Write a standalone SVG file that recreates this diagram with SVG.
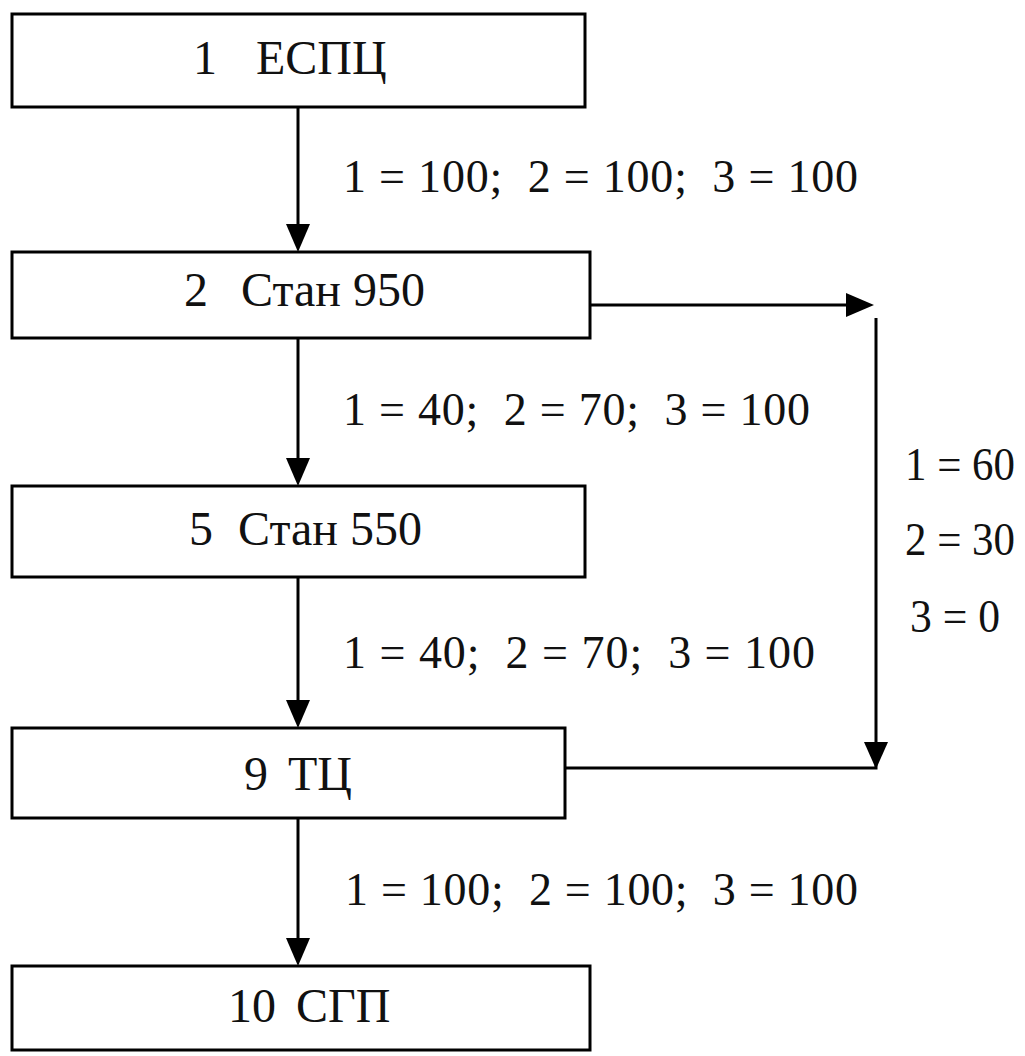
<svg xmlns="http://www.w3.org/2000/svg" width="1025" height="1056" viewBox="0 0 1025 1056">
<defs>
<style>
.box{fill:#fff;stroke:#000;stroke-width:3}
.t{font-family:"Liberation Serif","Times New Roman",serif;font-size:48px;fill:#111}
.lbl{font-family:"Liberation Serif","Times New Roman",serif;font-size:46px;fill:#111}
.c{fill:none;stroke:#000;stroke-width:3}
.hd{fill:#000}
</style>
</defs>
<rect width="1025" height="1056" fill="#fff"/>
<g id="connectors">
<line class="c" x1="298" y1="107" x2="298" y2="228"/>
<path class="hd" d="M286,224 L310,224 L298,252 Z"/>
<line class="c" x1="298" y1="338" x2="298" y2="462"/>
<path class="hd" d="M286,458 L310,458 L298,486 Z"/>
<line class="c" x1="298" y1="577" x2="298" y2="704"/>
<path class="hd" d="M286,700 L310,700 L298,728 Z"/>
<line class="c" x1="298" y1="818" x2="298" y2="942"/>
<path class="hd" d="M286,938 L310,938 L298,966 Z"/>
<line class="c" x1="590" y1="305" x2="850" y2="305"/>
<path class="hd" d="M846,293 L846,317 L874,305 Z"/>
<line class="c" x1="876" y1="318" x2="876" y2="746"/>
<path class="hd" d="M864,742 L888,742 L876,769 Z"/>
<polyline class="c" points="565,768 876,768 876,760"/>
<text class="lbl" x="343" y="192" textLength="515" lengthAdjust="spacing" xml:space="preserve">1 = 100;  2 = 100;  3 = 100</text>
<text class="lbl" x="343" y="425" textLength="467" lengthAdjust="spacing" xml:space="preserve">1 = 40;  2 = 70;  3 = 100</text>
<text class="lbl" x="343" y="668" textLength="472" lengthAdjust="spacing" xml:space="preserve">1 = 40;  2 = 70;  3 = 100</text>
<text class="lbl" x="345" y="905" textLength="513" lengthAdjust="spacing" xml:space="preserve">1 = 100;  2 = 100;  3 = 100</text>
<text class="lbl" x="905" y="480" textLength="110" lengthAdjust="spacingAndGlyphs">1 = 60</text>
<text class="lbl" x="905" y="555" textLength="110" lengthAdjust="spacingAndGlyphs">2 = 30</text>
<text class="lbl" x="910" y="632" textLength="90" lengthAdjust="spacingAndGlyphs">3 = 0</text>
</g>
<g id="n1"><rect class="box" x="12" y="14" width="573" height="93"/><text class="t" y="74"><tspan x="193">1</tspan><tspan x="256">ЕСПЦ</tspan></text></g>
<g id="n2"><rect class="box" x="12" y="252" width="578" height="86"/><text class="t" y="306"><tspan x="184">2</tspan><tspan x="241">Стан 950</tspan></text></g>
<g id="n5"><rect class="box" x="12" y="486" width="573" height="91"/><text class="t" y="545"><tspan x="189">5</tspan><tspan x="238">Стан 550</tspan></text></g>
<g id="n9"><rect class="box" x="12" y="728" width="553" height="90"/><text class="t" y="790"><tspan x="244">9</tspan><tspan x="288">ТЦ</tspan></text></g>
<g id="n10"><rect class="box" x="12" y="966" width="578" height="84"/><text class="t" y="1022"><tspan x="228">10</tspan><tspan x="296">СГП</tspan></text></g>
</svg>
